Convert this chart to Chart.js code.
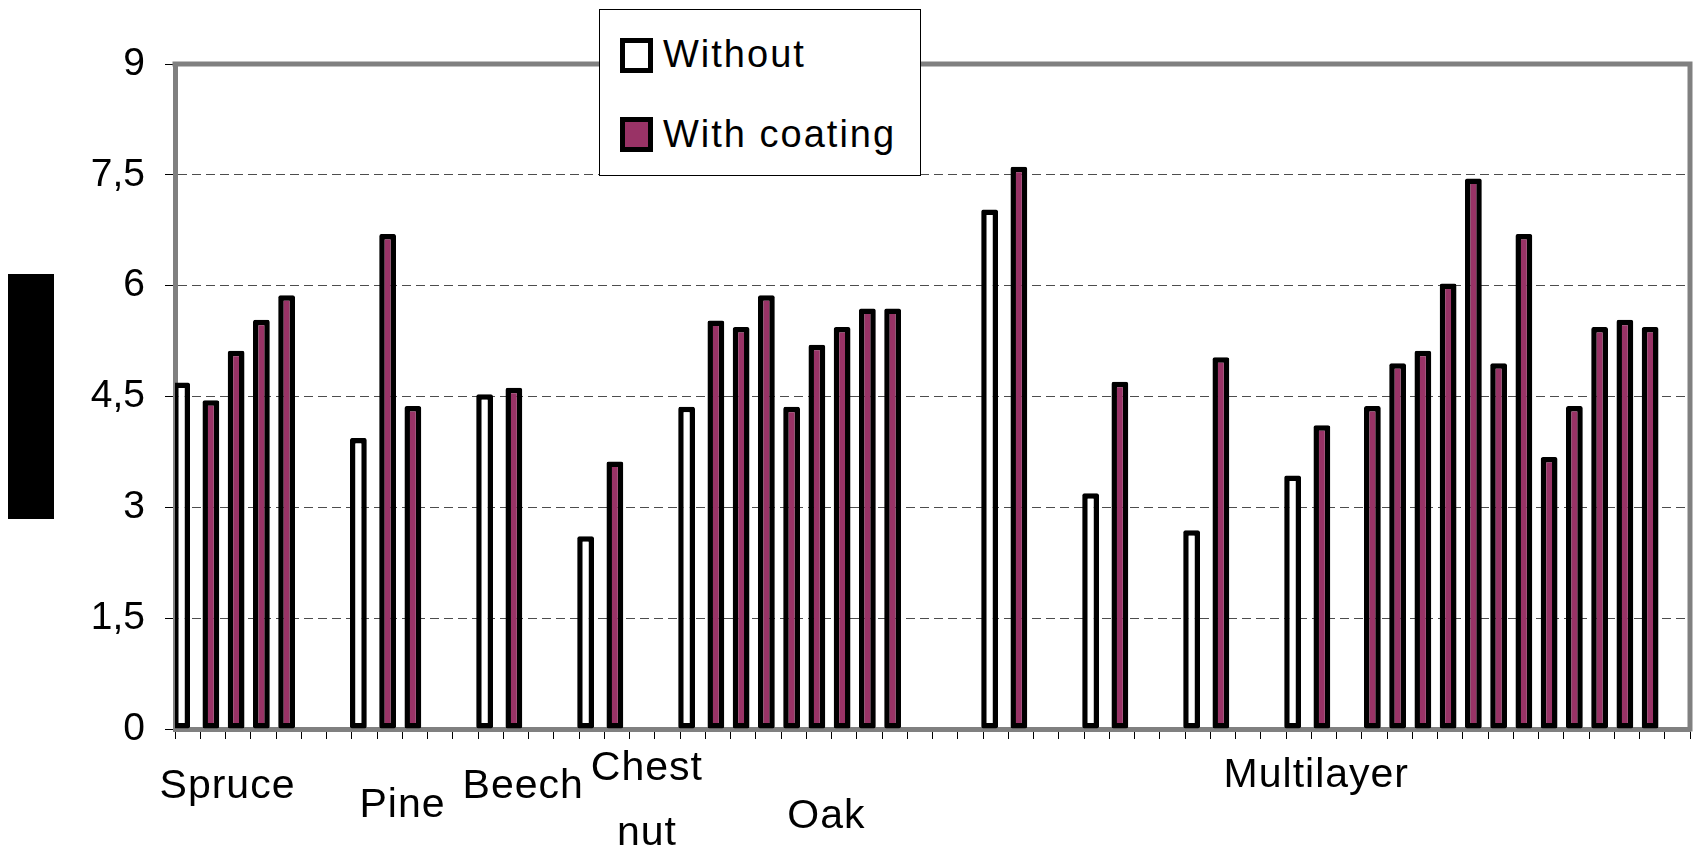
<!DOCTYPE html>
<html>
<head>
<meta charset="utf-8">
<script src="https://cdn.jsdelivr.net/npm/chart.js@4.4.1/dist/chart.umd.min.js"></script>
<style>
html,body{margin:0;padding:0;background:#fff;}
#wrap{position:relative;width:1699px;height:851px;overflow:hidden;font-family:"Liberation Sans",Arial,sans-serif;}
#c{position:absolute;left:0;top:0;}
#ytitle{position:absolute;left:8px;top:274px;width:46px;height:245px;background:#000;}
#legend{position:absolute;left:599px;top:9px;width:320px;height:165px;border:1px solid #000;background:#fff;}
.sw{position:absolute;left:20px;width:23px;height:25px;border:5px solid #000;}
.lt{position:absolute;left:63px;font-size:38px;line-height:38px;letter-spacing:2px;color:#000;white-space:nowrap;}
</style>
</head>
<body>
<div id="wrap">
  <canvas id="c" width="1699" height="851"></canvas>
  <div id="ytitle"></div>
  <div id="legend"></div>
</div>
<script>
// ---- data ----
const seriesNames = ['Without', 'With coating'];
const categories = [
  'Spruce','Spruce','Spruce','Spruce','Spruce','','','Pine','Pine','Pine',
  '','','Beech','Beech','','','Chestnut','Chestnut','','',
  'Oak','Oak','Oak','Oak','Oak','Oak','Oak','Oak','Oak','',
  '','','Multilayer','Multilayer','','','Multilayer','Multilayer','','',
  'Multilayer','Multilayer','','','Multilayer','Multilayer','','Multilayer','Multilayer','Multilayer',
  'Multilayer','Multilayer','Multilayer','Multilayer','Multilayer','Multilayer','Multilayer','Multilayer','Multilayer',''
];
const withoutCoating = [
  4.69, null, null, null, null, null, null, 3.94, null, null,
  null, null, 4.53, null, null, null, 2.61, null, null, null,
  4.36, null, null, null, null, null, null, null, null, null,
  null, null, 7.03, null, null, null, 3.19, null, null, null,
  2.69, null, null, null, 3.43, null, null, null, null, null,
  null, null, null, null, null, null, null, null, null, null
];
const withCoating = [
  null, 4.45, 5.12, 5.54, 5.87, null, null, null, 6.70, 4.37,
  null, null, null, 4.62, null, null, null, 3.62, null, null,
  null, 5.53, 5.44, 5.87, 4.36, 5.20, 5.44, 5.69, 5.69, null,
  null, null, null, 7.61, null, null, null, 4.70, null, null,
  null, 5.03, null, null, null, 4.11, null, 4.37, 4.95, 5.12,
  6.03, 7.45, 4.95, 6.70, 3.68, 4.37, 5.44, 5.54, 5.44, null
];
const yTickLabels = ['0', '1,5', '3', '4,5', '6', '7,5', '9'];
const groupLabels = [['Spruce'], ['Pine'], ['Beech'], ['Chest', 'nut'], ['Oak'], ['Multilayer']];

// ---- label placement (category units / pixels below axis) ----
const groupLabelAt = [1.58, 8.51, 13.29, 18.19, 25.3, 44.7];
const groupLabelBaselines = [[69], [88], [69], [51, 116], [99], [58]];

const FONT = '"Liberation Sans", Arial, sans-serif';
const fills = ['#ffffff', '#993366'];

// legend (HTML)
const lg = document.getElementById('legend');
const swTops = [28, 107];
const txTops = [24.5, 104.5];
seriesNames.forEach((name, i) => {
  const sw = document.createElement('div');
  sw.className = 'sw';
  sw.style.top = swTops[i] + 'px';
  sw.style.background = fills[i];
  lg.appendChild(sw);
  const t = document.createElement('div');
  t.className = 'lt';
  t.style.top = txTops[i] + 'px';
  t.textContent = name;
  lg.appendChild(t);
});

const framePlugin = {
  id: 'frame',
  beforeDatasetsDraw(chart) {
    const a = chart.chartArea, ctx = chart.ctx;
    ctx.save();
    ctx.strokeStyle = '#808080';
    ctx.lineWidth = 5;
    ctx.beginPath();
    ctx.moveTo(a.left - 2.5, a.top);
    ctx.lineTo(a.right, a.top);
    ctx.lineTo(a.right, a.bottom + 2.5);
    ctx.stroke();
    ctx.restore();
  }
};

const groupLabelPlugin = {
  id: 'groupLabels',
  afterDraw(chart) {
    const xs = chart.scales.x, a = chart.chartArea, ctx = chart.ctx;
    ctx.save();
    ctx.font = '41px ' + FONT;
    try { ctx.letterSpacing = '1px'; } catch (e) {}
    ctx.textAlign = 'center';
    ctx.textBaseline = 'alphabetic';
    ctx.fillStyle = '#000';
    groupLabels.forEach((lines, i) => {
      const x = xs.getPixelForValue(groupLabelAt[i]);
      lines.forEach((t, j) => ctx.fillText(t, x, a.bottom + groupLabelBaselines[i][j]));
    });
    ctx.restore();
  }
};

// bars of the two series overlap slightly left of the category centre, as in Excel
const barCommon = {
  borderColor: '#000000',
  borderWidth: 5.5,
  borderSkipped: false,
  borderRadius: 2,
  categoryPercentage: 0.634,
  barPercentage: 4.2
};

new Chart(document.getElementById('c'), {
  type: 'bar',
  data: {
    labels: categories,
    datasets: [
      Object.assign({ label: seriesNames[0], data: withoutCoating, backgroundColor: fills[0] }, barCommon),
      Object.assign({ label: seriesNames[1], data: withCoating, backgroundColor: fills[1] }, barCommon),
      Object.assign({ label: '', data: [], backgroundColor: 'rgba(0,0,0,0)' }, barCommon),
      Object.assign({ label: '', data: [], backgroundColor: 'rgba(0,0,0,0)' }, barCommon)
    ]
  },
  options: {
    responsive: false,
    animation: false,
    devicePixelRatio: 1,
    layout: { padding: { top: 64, right: 9, left: 0, bottom: 0 } },
    plugins: { legend: { display: false }, tooltip: { enabled: false } },
    scales: {
      x: {
        offset: true,
        grid: { offset: true, drawOnChartArea: false, drawTicks: true, tickLength: 10, tickColor: '#000', tickWidth: 1 },
        border: { color: '#808080', width: 5 },
        ticks: { autoSkip: false, maxRotation: 0, callback: () => '' },
        afterFit: s => { s.height = 122; }
      },
      y: {
        min: 0,
        max: 9,
        ticks: {
          stepSize: 1.5,
          callback: (v, i) => yTickLabels[i],
          font: { family: FONT, size: 39 },
          color: '#000',
          padding: 20
        },
        grid: { color: '#4d4d4d', lineWidth: 1, tickColor: '#000', tickLength: 10, tickWidth: 1, tickBorderDash: [] },
        border: { color: '#808080', width: 5, dash: [9, 5] },
        afterFit: s => { s.width = 175; }
      }
    }
  },
  plugins: [framePlugin, groupLabelPlugin]
});
</script>
</body>
</html>
